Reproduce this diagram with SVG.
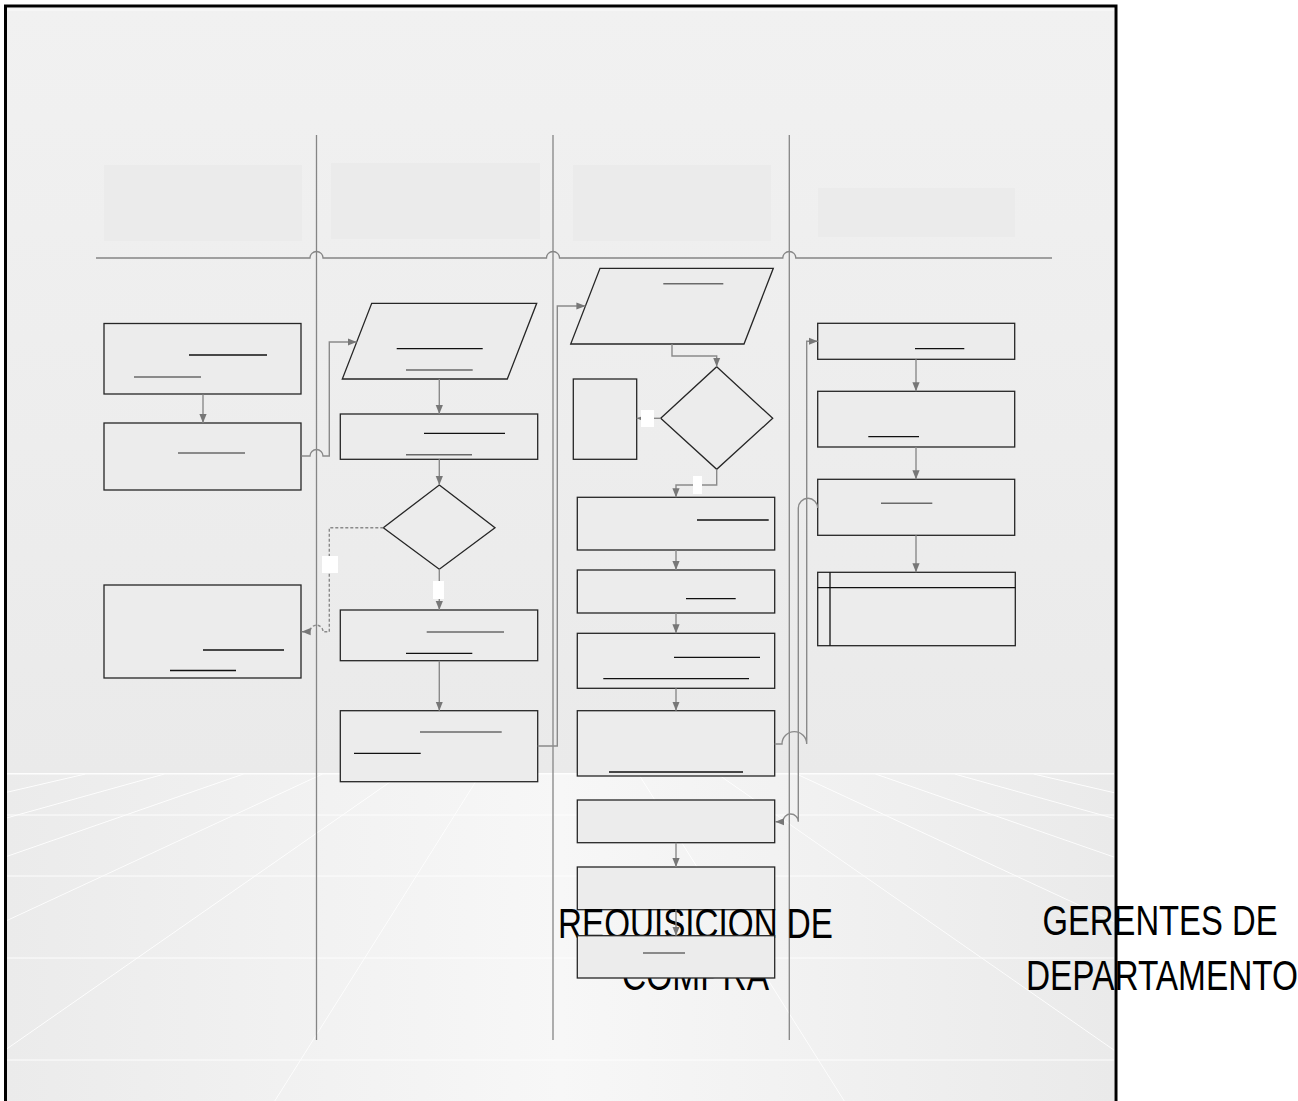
<svg xmlns="http://www.w3.org/2000/svg" width="1298" height="1101" viewBox="0 0 1298 1101">
  <defs>
    <linearGradient id="wallGrad" x1="0" y1="0" x2="0" y2="1">
      <stop offset="0" stop-color="#f1f1f1"/>
      <stop offset="1" stop-color="#eaeaea"/>
    </linearGradient>
    <linearGradient id="floorGrad" x1="0" y1="0" x2="1" y2="0">
      <stop offset="0" stop-color="#ebebeb"/>
      <stop offset="0.5" stop-color="#f7f7f7"/>
      <stop offset="1" stop-color="#eaeaea"/>
    </linearGradient>
    <clipPath id="floorClip">
      <rect x="7" y="773" width="1107" height="330"/>
    </clipPath>
    <marker id="ah" viewBox="0 0 10 10" refX="10" refY="5" markerWidth="9" markerHeight="9" markerUnits="userSpaceOnUse" orient="auto">
      <path d="M0,1 L10,5 L0,9 z" fill="#777"/>
    </marker>
    <style>
      .node { fill: #ececec; stroke: #262626; stroke-width: 1.3; }
      .hdr { fill: #ebebeb; stroke: none; }
      .lane { fill: none; stroke: #858585; stroke-width: 1.3; }
      .conn { fill: none; stroke: #8a8a8a; stroke-width: 1.4; marker-end: url(#ah); }
      .dash { stroke-dasharray: 3 2; }
      .ulk { stroke: #111; stroke-width: 1.3; }
      .ulg { stroke: #6a6a6a; stroke-width: 1.6; }
      .tag { fill: #ffffff; stroke: none; }
      .floor { stroke: #ffffff; stroke-width: 1; fill: none; opacity: 0.9; }
      .big { font-family: "Liberation Sans", Arial, sans-serif; font-size: 42px; fill: #000; text-anchor: middle; }
    </style>
  </defs>

  <!-- page and framed backdrop -->
  <rect x="0" y="0" width="1298" height="1101" fill="#ffffff"/>
  <rect x="7" y="8" width="1107" height="766" fill="url(#wallGrad)"/>
  <rect x="7" y="9" width="1107" height="2" fill="#f6f6f6"/>
  <rect x="7" y="773" width="1107" height="330" fill="url(#floorGrad)"/>

  <!-- perspective floor grid -->
  <g clip-path="url(#floorClip)" class="floor">
    <line x1="7" y1="773.5" x2="1114" y2="773.5" stroke-width="2.2"/>
    <line x1="7" y1="815" x2="1114" y2="815"/>
    <line x1="7" y1="876" x2="1114" y2="876"/>
    <line x1="7" y1="958" x2="1114" y2="958"/>
    <line x1="7" y1="1060" x2="1114" y2="1060"/>
    <!-- rays from the vanishing point (559.5,664) -->
    <line x1="480.5" y1="774" x2="-79.5" y2="1664"/>
    <line x1="401.5" y1="774" x2="-718.5" y2="1554"/>
    <line x1="322.5" y1="774" x2="-1357.5" y2="1554"/>
    <line x1="243.5" y1="774" x2="-1996.5" y2="1554"/>
    <line x1="164.5" y1="774" x2="-2635.5" y2="1554"/>
    <line x1="85.5" y1="774" x2="-3274.5" y2="1554"/>
    <line x1="638.5" y1="774" x2="1198.5" y2="1664"/>
    <line x1="717.5" y1="774" x2="1837.5" y2="1554"/>
    <line x1="796.5" y1="774" x2="2476.5" y2="1554"/>
    <line x1="875.5" y1="774" x2="3115.5" y2="1554"/>
    <line x1="954.5" y1="774" x2="3754.5" y2="1554"/>
    <line x1="1033.5" y1="774" x2="4393.5" y2="1554"/>
  </g>

  <!-- lane header panels -->
  <g id="lane-headers">
    <rect class="hdr" x="104" y="165" width="198" height="76"/>
    <rect class="hdr" x="331" y="163" width="209" height="76"/>
    <rect class="hdr" x="573" y="165" width="198" height="76"/>
    <rect class="hdr" x="818" y="188" width="197" height="49"/>
  </g>

  <!-- swimlane dividers -->
  <g id="lanes" class="lane">
    <line x1="316.5" y1="135" x2="316.5" y2="1040"/>
    <line x1="553" y1="135" x2="553" y2="1040"/>
    <line x1="789.3" y1="135" x2="789.3" y2="1040"/>
    <path d="M96,258 H310 A6.5,6.5 0 0 1 323,258 H546.5 A6.5,6.5 0 0 1 559.5,258 H782.8 A6.5,6.5 0 0 1 795.8,258 H1052"/>
  </g>

  <!-- lane 1 -->
  <g id="node-a">
    <rect class="node" x="104" y="323.5" width="197" height="70.5"/>
    <line class="ulk" x1="189" y1="355" x2="267" y2="355"/>
    <line class="ulg" x1="134" y1="377" x2="201" y2="377"/>
  </g>
  <g id="node-b">
    <rect class="node" x="104" y="423" width="197" height="67"/>
    <line class="ulg" x1="178" y1="453" x2="245" y2="453"/>
  </g>
  <g id="node-c">
    <rect class="node" x="104" y="585" width="197" height="93"/>
    <line class="ulk" x1="203" y1="650" x2="284" y2="650"/>
    <line class="ulk" x1="170" y1="670.5" x2="236" y2="670.5"/>
  </g>

  <!-- lane 2 -->
  <g id="node-p1">
    <polygon class="node" points="371.7,303.3 536.7,303.3 507.3,379 342.3,379"/>
    <line class="ulk" x1="396.7" y1="348.7" x2="482.7" y2="348.7"/>
    <line class="ulg" x1="406" y1="370" x2="472.7" y2="370"/>
  </g>
  <g id="node-d">
    <rect class="node" x="340.3" y="414" width="197.4" height="45.3"/>
    <line class="ulk" x1="424" y1="433.3" x2="505" y2="433.3"/>
    <line class="ulg" x1="406" y1="454.7" x2="472" y2="454.7"/>
  </g>
  <g id="node-dia1">
    <polygon class="node" points="439.3,485 495,527.7 439.3,569.3 383.3,527.7"/>
  </g>
  <g id="node-e">
    <rect class="node" x="340.3" y="610" width="197.4" height="50.7"/>
    <line class="ulg" x1="426.7" y1="632" x2="504" y2="632"/>
    <line class="ulk" x1="406" y1="653.3" x2="472.3" y2="653.3"/>
  </g>
  <g id="node-f">
    <rect class="node" x="340.3" y="710.7" width="197.4" height="71"/>
    <line class="ulg" x1="420" y1="732" x2="501.7" y2="732"/>
    <line class="ulk" x1="354" y1="753.3" x2="420.7" y2="753.3"/>
  </g>

  <!-- lane 3 -->
  <g id="node-p2">
    <polygon class="node" points="600,268.3 773.3,268.3 744,344 570.7,344"/>
    <line class="ulg" x1="663.3" y1="283.7" x2="723.3" y2="283.7"/>
  </g>
  <g id="node-dia2">
    <polygon class="node" points="716.7,366.7 772.7,418.3 716.7,469.3 660.7,418.3"/>
  </g>
  <g id="node-g">
    <rect class="node" x="573.3" y="379" width="63.4" height="80.3"/>
  </g>
  <g id="node-h">
    <rect class="node" x="577.3" y="497.3" width="197.4" height="52.7"/>
    <line class="ulk" x1="697" y1="520" x2="768.7" y2="520"/>
  </g>
  <g id="node-i">
    <rect class="node" x="577.3" y="570" width="197.4" height="43"/>
    <line class="ulk" x1="686" y1="598.7" x2="735.7" y2="598.7"/>
  </g>
  <g id="node-j">
    <rect class="node" x="577.3" y="633.3" width="197.4" height="55"/>
    <line class="ulk" x1="674" y1="657.3" x2="760" y2="657.3"/>
    <line class="ulk" x1="603.3" y1="678.7" x2="749" y2="678.7"/>
  </g>
  <g id="node-k">
    <rect class="node" x="577.3" y="710.7" width="197.4" height="65.3"/>
    <line class="ulk" x1="609" y1="772" x2="743" y2="772"/>
  </g>
  <g id="node-m">
    <rect class="node" x="577.3" y="800" width="197.4" height="42.7"/>
  </g>
  <g id="node-o">
    <rect class="node" x="577.3" y="867" width="197.4" height="42.7"/>
  </g>

  <!-- lane 4 -->
  <g id="node-l">
    <rect class="node" x="817.7" y="323.3" width="197" height="36"/>
    <line class="ulk" x1="915" y1="348.7" x2="964.3" y2="348.7"/>
  </g>
  <g id="node-m2">
    <rect class="node" x="817.7" y="391.3" width="197" height="55.7"/>
    <line class="ulk" x1="868.3" y1="436.7" x2="919" y2="436.7"/>
  </g>
  <g id="node-n">
    <rect class="node" x="817.7" y="479.3" width="197" height="56"/>
    <line class="ulg" x1="881" y1="503.3" x2="932.3" y2="503.3"/>
  </g>
  <g id="node-q">
    <rect class="node" x="817.7" y="572.3" width="197.6" height="73.4"/>
    <line class="ulk" x1="817.7" y1="587.7" x2="1015.3" y2="587.7"/>
    <line class="ulk" x1="830" y1="572.3" x2="830" y2="645.7"/>
  </g>

  <!-- lane titles -->
  <g id="lane-titles" class="big">
    <text x="695.5" y="937.5" textLength="275" lengthAdjust="spacingAndGlyphs">REQUISICION DE</text>
    <text x="695.5" y="990" textLength="147" lengthAdjust="spacingAndGlyphs">COMPRA</text>
    <text x="1160" y="935" textLength="235" lengthAdjust="spacingAndGlyphs">GERENTES DE</text>
    <text x="1162" y="990" textLength="272" lengthAdjust="spacingAndGlyphs">DEPARTAMENTO</text>
  </g>

  <g id="node-p">
    <rect class="node" x="577.3" y="935.7" width="197.4" height="42.3"/>
    <line class="ulg" x1="643" y1="953" x2="685" y2="953"/>
  </g>

  <!-- connectors -->
  <g id="connectors">
    <path class="conn" d="M203,394.5 V423"/>
    <path class="conn" d="M301.7,456 H310 A6.5,6.5 0 0 1 323,456 H329.3 V342 H356.6"/>
    <path class="conn" d="M439.3,379 V414"/>
    <path class="conn" d="M439.3,459.3 V485"/>
    <path class="conn dash" d="M383.3,527.7 H329.3 V631.7 H323 A6.5,6.5 0 0 0 310,631.7 H301.7"/>
    <path class="conn" d="M439.3,569.3 V610"/>
    <path class="conn" d="M439.3,660.7 V710.7"/>
    <path class="conn" d="M537.7,746 H557.3 V306 H585.4"/>
    <path class="conn" d="M672,344 V356 H716.7 V366.7"/>
    <path class="conn" d="M660.7,418.3 H636.7"/>
    <path class="conn" d="M716.7,469.3 V485 H676 V497.3"/>
    <path class="conn" d="M676,550 V570"/>
    <path class="conn" d="M676,613 V633.3"/>
    <path class="conn" d="M676,688.3 V710.7"/>
    <path class="conn" d="M774.7,744 H782 A12.35,12.35 0 0 1 806.7,744 V341.3 H817.7"/>
    <path class="conn" d="M916,359.3 V391.3"/>
    <path class="conn" d="M916,447 V479.3"/>
    <path class="conn" d="M916,535.3 V572.3"/>
    <path class="conn" d="M817.7,508 A9.7,9.7 0 0 0 798.3,508 V821.7 A7.65,7.65 0 0 0 783,821.7 H775.3"/>
    <path class="conn" d="M676,842.7 V867"/>
    <path class="conn" d="M676,909.7 V935.7"/>
    <!-- branch tags -->
    <rect class="tag" x="322" y="556" width="16" height="17"/>
    <rect class="tag" x="433" y="581" width="11" height="18"/>
    <rect class="tag" x="641" y="410" width="13" height="17"/>
    <rect class="tag" x="693" y="476" width="9" height="18"/>
  </g>

  <!-- outer frame -->
  <rect x="5.5" y="6" width="1110.5" height="1110" fill="none" stroke="#000" stroke-width="3"/>
</svg>
